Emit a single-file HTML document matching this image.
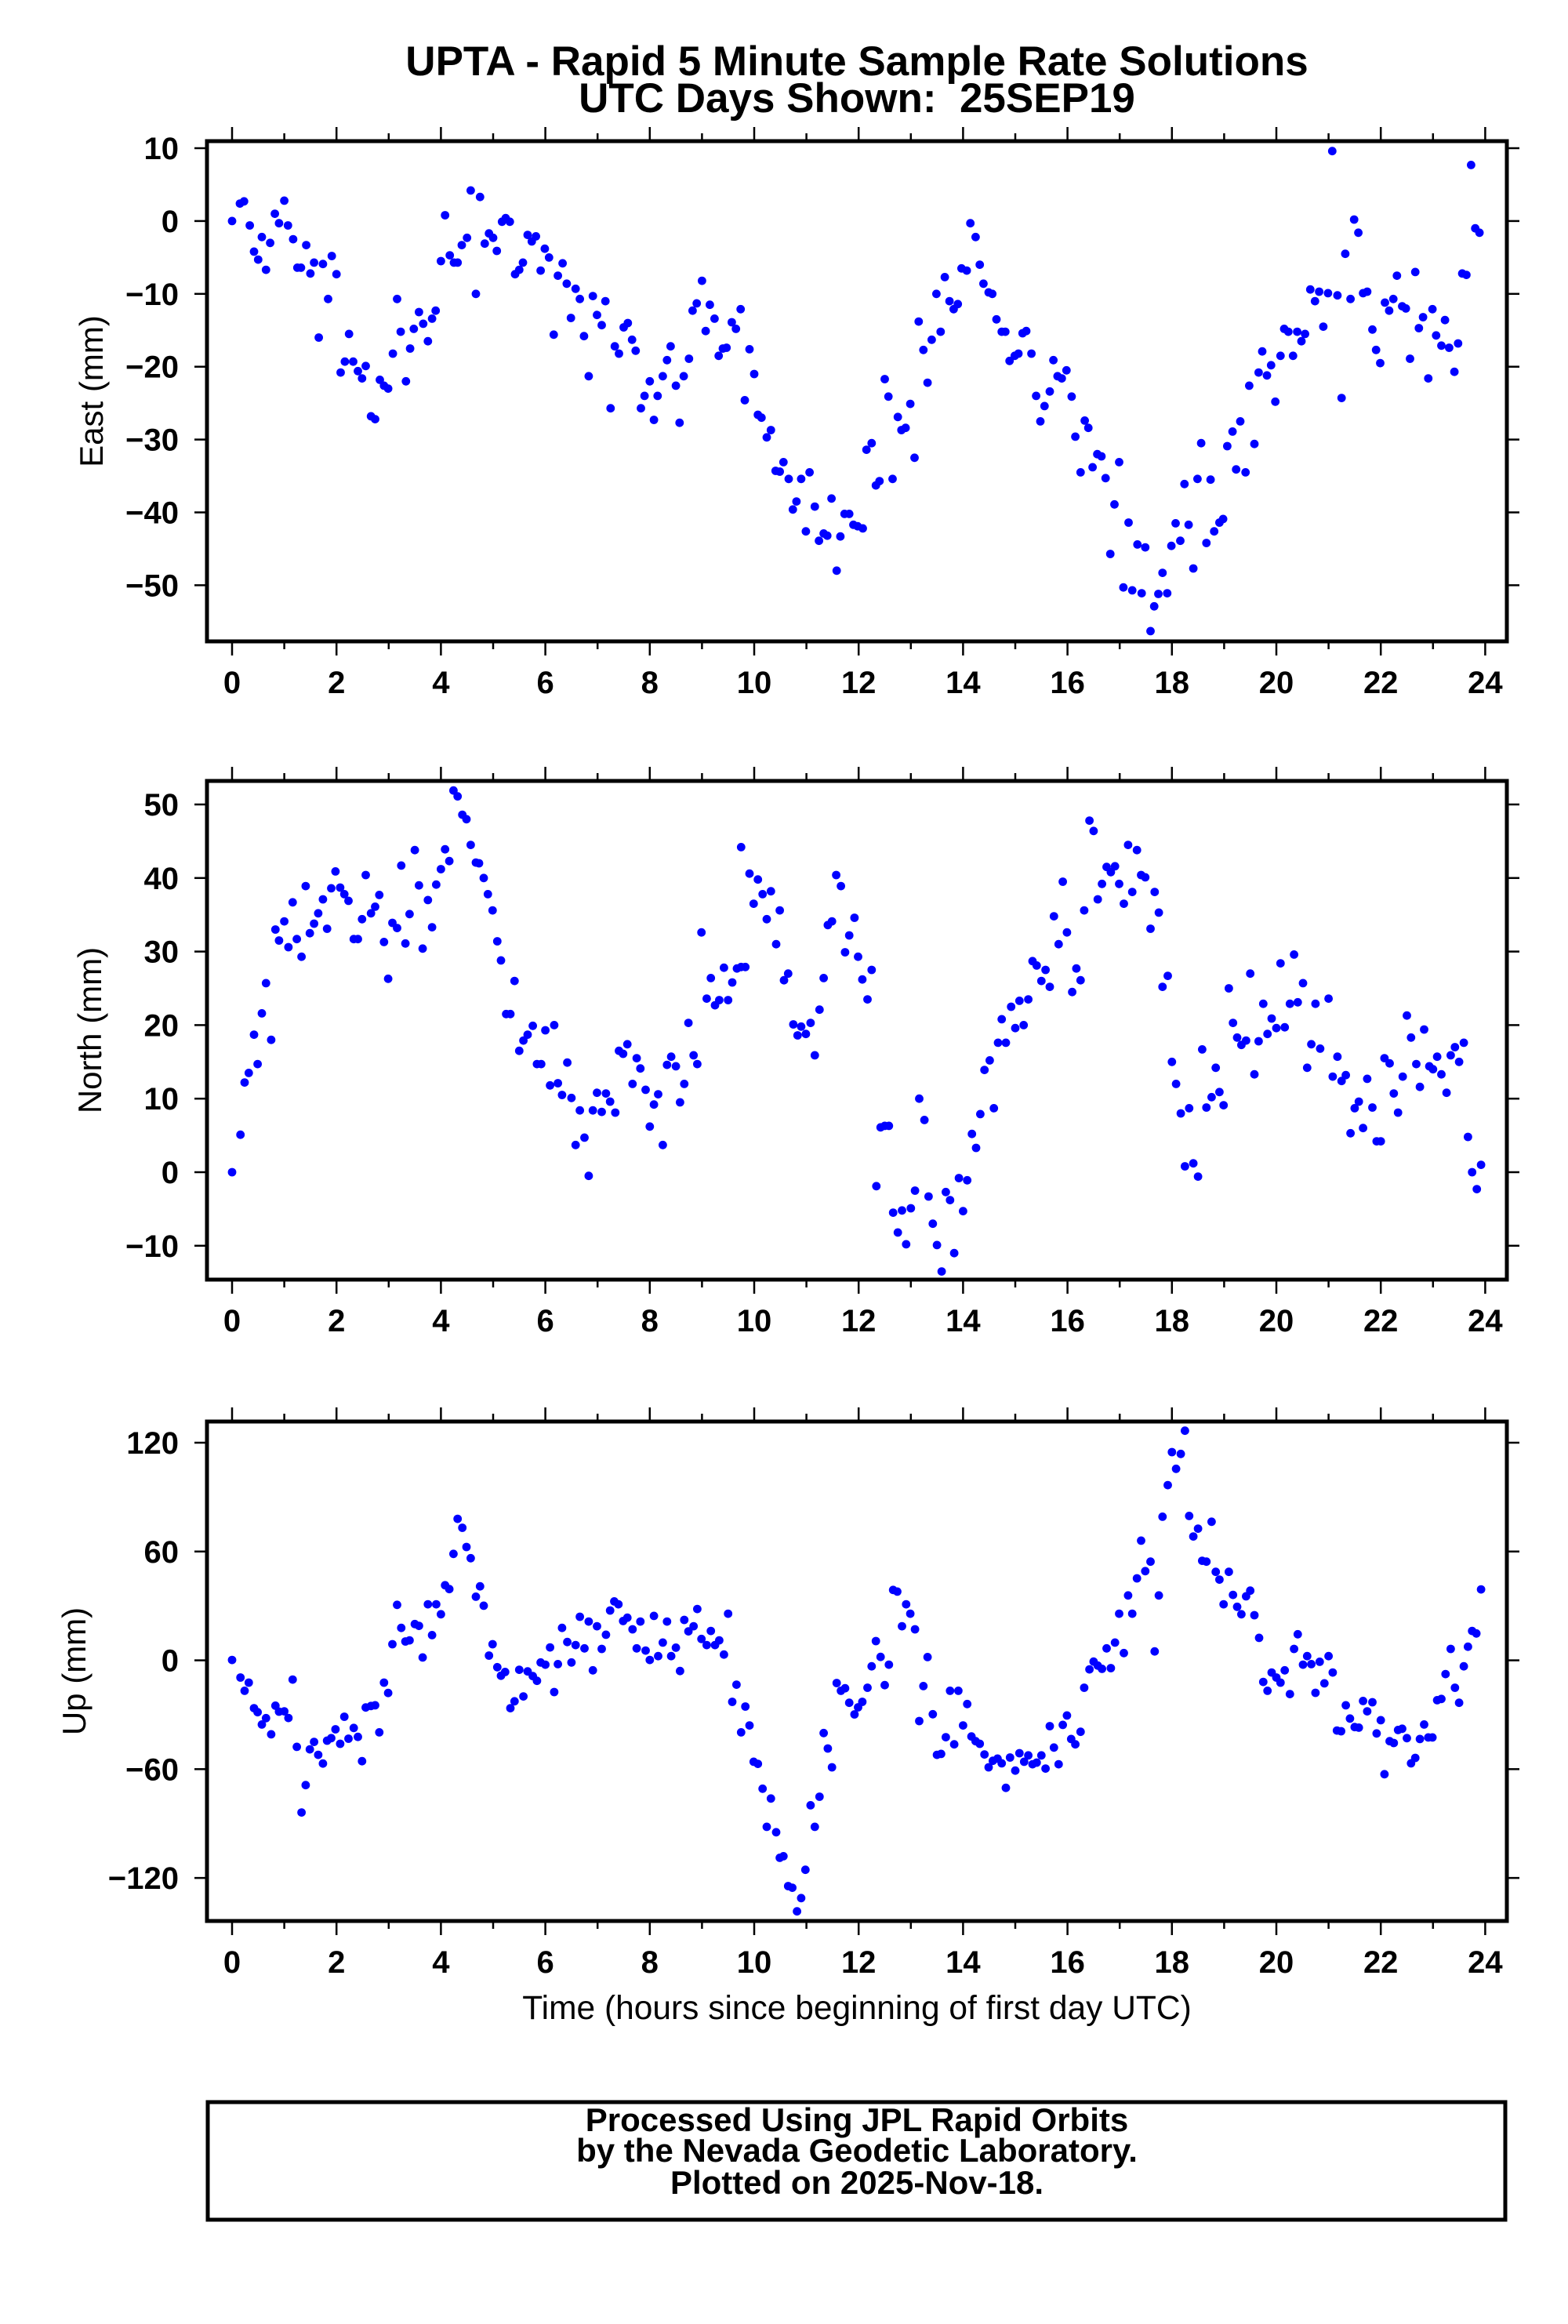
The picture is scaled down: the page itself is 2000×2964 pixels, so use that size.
<!DOCTYPE html>
<html><head><meta charset="utf-8"><style>
html,body{margin:0;padding:0;background:#fff}
svg{display:block}
text{font-family:"Liberation Sans",Arial,sans-serif;fill:#000}
</style></head><body>
<svg id="chart" xmlns="http://www.w3.org/2000/svg" width="2000" height="2964" viewBox="0 0 2000 2964">
<rect x="0" y="0" width="2000" height="2964" fill="#fff"/>
<text x="1093" y="96" font-size="53" font-weight="bold" text-anchor="middle">UPTA - Rapid 5 Minute Sample Rate Solutions</text>
<text x="1093" y="143" font-size="53" font-weight="bold" text-anchor="middle">UTC Days Shown:&#160; 25SEP19</text>
<g id="panels"></g>
<text x="1093" y="2575" font-size="42.5" text-anchor="middle">Time (hours since beginning of first day UTC)</text>
<rect x="265" y="2681" width="1655" height="150" fill="none" stroke="#000" stroke-width="5"/>
<text x="1093" y="2718" font-size="42" font-weight="bold" text-anchor="middle">Processed Using JPL Rapid Orbits</text>
<text x="1093" y="2757" font-size="42" font-weight="bold" text-anchor="middle">by the Nevada Geodetic Laboratory.</text>
<text x="1093" y="2798" font-size="42" font-weight="bold" text-anchor="middle">Plotted on 2025-Nov-18.</text>
</svg>
<script>
// ---- data ----
const xTicks = [0,2,4,6,8,10,12,14,16,18,20,22,24];
const eastTicks = [10,0,-10,-20,-30,-40,-50];
const northTicks = [50,40,30,20,10,0,-10];
const upTicks = [120,60,0,-60,-120];

const eastT = [0,0.15,0.23,0.34,0.42,0.5,0.57,0.65,0.73,0.82,0.9,1.0,1.07,1.17,1.25,1.32,1.42,1.5,1.57,1.66,1.74,1.84,1.91,2.0,2.08,2.16,2.24,2.32,2.41,2.49,2.56,2.66,2.74,2.83,2.91,2.99,3.08,3.16,3.23,3.33,3.41,3.48,3.58,3.66,3.75,3.83,3.9,4.0,4.08,4.17,4.25,4.32,4.4,4.5,4.57,4.67,4.75,4.84,4.92,5.0,5.07,5.17,5.24,5.32,5.42,5.5,5.57,5.66,5.74,5.82,5.91,5.99,6.07,6.16,6.24,6.33,6.41,6.49,6.58,6.66,6.74,6.83,6.91,6.99,7.08,7.15,7.25,7.33,7.41,7.5,7.58,7.66,7.73,7.83,7.9,8.0,8.08,8.15,8.25,8.33,8.4,8.5,8.57,8.65,8.75,8.82,8.9,9.0,9.07,9.15,9.24,9.32,9.4,9.47,9.57,9.65,9.74,9.82,9.91,10.0,10.07,10.14,10.24,10.32,10.41,10.49,10.56,10.66,10.74,10.81,10.9,10.99,11.06,11.16,11.24,11.33,11.4,11.48,11.58,11.65,11.73,11.82,11.9,11.98,12.08,12.15,12.25,12.33,12.4,12.5,12.57,12.65,12.75,12.82,12.9,12.99,13.07,13.15,13.24,13.32,13.4,13.49,13.57,13.65,13.74,13.82,13.9,13.97,14.07,14.14,14.24,14.32,14.39,14.49,14.56,14.64,14.74,14.81,14.89,14.99,15.06,15.14,15.21,15.31,15.4,15.48,15.56,15.66,15.73,15.81,15.89,15.98,16.08,16.15,16.25,16.33,16.4,16.48,16.57,16.65,16.73,16.82,16.9,16.99,17.07,17.17,17.24,17.34,17.42,17.49,17.59,17.66,17.74,17.82,17.91,17.99,18.07,18.16,18.24,18.32,18.41,18.49,18.56,18.66,18.74,18.81,18.91,18.98,19.06,19.16,19.23,19.31,19.41,19.48,19.58,19.66,19.73,19.82,19.9,19.98,20.08,20.15,20.23,20.32,20.4,20.48,20.55,20.65,20.74,20.82,20.9,20.99,21.07,21.17,21.25,21.32,21.42,21.49,21.57,21.66,21.74,21.84,21.91,21.99,22.08,22.16,22.24,22.31,22.41,22.48,22.56,22.66,22.73,22.81,22.91,22.99,23.06,23.16,23.23,23.31,23.41,23.48,23.56,23.64,23.73,23.81,23.89];
const eastV = [0,2.4,2.7,-0.6,-4.2,-5.3,-2.2,-6.7,-3,1,-0.3,2.8,-0.6,-2.5,-6.4,-6.4,-3.3,-7.2,-5.7,-16,-5.9,-10.7,-4.8,-7.3,-20.8,-19.3,-15.5,-19.3,-20.6,-21.6,-19.9,-26.8,-27.2,-21.8,-22.6,-23,-18.2,-10.7,-15.2,-22,-17.5,-14.8,-12.5,-14.1,-16.5,-13.4,-12.3,-5.5,0.8,-4.7,-5.7,-5.7,-3.3,-2.3,4.2,-10,3.3,-3.1,-1.7,-2.3,-4.1,-0.1,0.4,-0.1,-7.3,-6.7,-5.7,-1.9,-2.8,-2.1,-6.8,-3.8,-5,-15.6,-7.5,-5.8,-8.6,-13.3,-9.3,-10.7,-15.8,-21.3,-10.3,-12.9,-14.3,-11,-25.7,-17.2,-18.2,-14.6,-14,-16.3,-17.8,-25.7,-24,-22,-27.3,-24,-21.3,-19.1,-17.2,-22.6,-27.7,-21.3,-18.9,-12.3,-11.3,-8.2,-15.1,-11.5,-13.4,-18.5,-17.5,-17.4,-13.9,-14.8,-12.1,-24.6,-17.6,-21,-26.6,-27,-29.7,-28.7,-34.3,-34.4,-33.1,-35.4,-39.6,-38.5,-35.4,-42.6,-34.5,-39.2,-43.9,-42.9,-43.2,-38.1,-48,-43.3,-40.2,-40.2,-41.7,-41.9,-42.2,-31.4,-30.5,-36.3,-35.7,-21.7,-24.1,-35.4,-26.9,-28.7,-28.4,-25.1,-32.5,-13.8,-17.7,-22.2,-16.3,-10,-15.2,-7.7,-11,-12.1,-11.4,-6.5,-6.8,-0.3,-2.2,-6,-8.6,-9.8,-10,-13.5,-15.2,-15.2,-19.2,-18.5,-18.2,-15.4,-15.1,-18.2,-24,-27.5,-25.4,-23.4,-19.1,-21.3,-21.6,-20.5,-24.1,-29.6,-34.5,-27.4,-28.4,-33.8,-32,-32.3,-35.3,-45.7,-38.9,-33.1,-50.3,-41.4,-50.7,-44.4,-51.1,-44.8,-56.3,-52.9,-51.2,-48.3,-51.1,-44.6,-41.5,-43.9,-36.1,-41.7,-47.7,-35.4,-30.5,-44.2,-35.5,-42.6,-41.4,-40.9,-30.9,-28.9,-34.1,-27.5,-34.5,-22.6,-30.6,-20.8,-17.9,-21.2,-19.8,-24.8,-18.5,-14.8,-15.2,-18.5,-15.2,-16.5,-15.5,-9.4,-11,-9.7,-14.5,-9.9,9.6,-10.2,-24.3,-4.5,-10.7,0.2,-1.6,-9.9,-9.7,-14.9,-17.7,-19.5,-11.2,-12.3,-10.7,-7.5,-11.7,-12,-18.9,-7,-14.7,-13.2,-21.6,-12.1,-15.7,-17.1,-13.6,-17.4,-20.7,-16.8,-7.2,-7.4,7.7,-1,-1.6];

const northT = [0,0.16,0.24,0.32,0.42,0.49,0.57,0.65,0.75,0.83,0.9,1.0,1.08,1.16,1.24,1.33,1.41,1.49,1.57,1.65,1.74,1.82,1.9,1.98,2.07,2.15,2.23,2.33,2.41,2.49,2.56,2.66,2.74,2.82,2.91,2.99,3.07,3.16,3.24,3.32,3.4,3.5,3.58,3.65,3.75,3.83,3.91,4.0,4.08,4.16,4.24,4.32,4.41,4.49,4.57,4.67,4.73,4.82,4.9,4.99,5.08,5.15,5.25,5.33,5.41,5.5,5.58,5.66,5.76,5.84,5.92,6.0,6.09,6.17,6.24,6.32,6.42,6.5,6.58,6.66,6.75,6.83,6.91,6.99,7.08,7.16,7.24,7.34,7.41,7.49,7.57,7.67,7.75,7.82,7.92,8.0,8.08,8.16,8.25,8.33,8.41,8.5,8.58,8.66,8.74,8.84,8.91,8.99,9.09,9.17,9.25,9.33,9.42,9.5,9.58,9.67,9.75,9.75,9.83,9.91,9.99,10.07,10.16,10.24,10.32,10.42,10.49,10.57,10.65,10.75,10.83,10.9,10.99,11.08,11.16,11.25,11.33,11.41,11.49,11.57,11.66,11.74,11.82,11.92,11.99,12.07,12.17,12.25,12.34,12.42,12.5,12.58,12.66,12.75,12.83,12.91,13.0,13.08,13.16,13.26,13.34,13.42,13.5,13.59,13.67,13.75,13.83,13.92,14.0,14.08,14.17,14.25,14.33,14.41,14.51,14.59,14.67,14.74,14.82,14.92,15.0,15.08,15.16,15.25,15.33,15.41,15.5,15.58,15.66,15.74,15.83,15.91,15.99,16.09,16.17,16.25,16.32,16.42,16.5,16.58,16.66,16.75,16.83,16.91,16.99,17.08,17.16,17.24,17.33,17.41,17.49,17.59,17.67,17.75,17.82,17.92,18.0,18.08,18.17,18.25,18.33,18.41,18.5,18.58,18.66,18.76,18.84,18.91,18.99,19.09,19.17,19.25,19.33,19.42,19.5,19.58,19.66,19.75,19.83,19.91,20.0,20.08,20.16,20.26,20.34,20.41,20.51,20.59,20.67,20.75,20.84,21.0,21.08,21.17,21.25,21.33,21.42,21.5,21.58,21.66,21.74,21.84,21.92,22.0,22.07,22.17,22.25,22.33,22.42,22.5,22.58,22.68,22.75,22.83,22.93,23.0,23.08,23.16,23.26,23.34,23.42,23.5,23.59,23.67,23.75,23.84,23.92];
const northV = [0,5.1,12.2,13.5,18.7,14.7,21.6,25.7,18,33,31.5,34.1,30.6,36.7,31.7,29.3,38.9,32.5,33.8,35.2,37.1,33.1,38.6,40.9,38.7,37.8,36.9,31.7,31.7,34.4,40.4,35.2,36.1,37.7,31.3,26.3,33.9,33.2,41.7,31.1,35.1,43.8,39,30.4,37,33.3,39.1,41.2,43.9,42.3,51.9,51.1,48.6,48,44.5,42.1,42,40,37.8,35.6,31.4,28.8,21.5,21.5,26,16.5,17.9,18.7,19.9,14.7,14.7,19.3,11.8,20,12.1,10.5,14.9,10.1,3.7,8.4,4.7,-0.5,8.4,10.8,8.2,10.7,9.6,8.1,16.5,16.1,17.4,12,15.5,14.1,11.2,6.2,9.2,10.6,3.7,14.6,15.7,14.4,9.5,12,20.3,15.9,14.7,32.6,23.6,26.4,22.7,23.4,27.8,23.4,25.8,27.7,27.9,44.2,27.9,40.6,36.5,39.8,37.8,34.4,38.2,31,35.6,26.1,27,20.1,18.6,19.8,18.8,20.3,15.9,22.1,26.4,33.6,34.1,40.4,38.9,29.9,32.2,34.6,29.3,26.2,23.5,27.5,-1.9,6.1,6.3,6.3,-5.5,-8.2,-5.2,-9.8,-4.9,-2.5,10,7.1,-3.3,-7,-9.9,-13.5,-2.7,-3.8,-11,-0.8,-5.3,-1.1,5.2,3.3,7.9,13.9,15.2,8.7,17.6,20.8,17.6,22.5,19.6,23.3,20,23.5,28.7,28.1,26,27.5,25.2,34.8,31,39.5,32.6,24.5,27.7,26.1,35.6,47.8,46.4,37.1,39.2,41.5,40.8,41.6,39.2,36.5,44.5,38.1,43.8,40.4,40.1,33.1,38.1,35.3,25.2,26.7,15,12,8,0.8,8.7,1.2,-0.6,16.7,8.8,10.2,14.2,10.9,9.1,25,20.3,18.3,17.3,17.9,27,13.3,17.8,22.9,18.8,20.9,19.6,28.4,19.7,22.9,29.6,23.1,25.7,14.2,17.4,22.9,16.8,23.6,13,15.7,12.4,13.2,5.3,8.7,9.6,6,12.7,8.8,4.2,4.2,15.5,14.8,10.7,8.1,13,21.3,18.3,14.7,11.6,19.4,14.4,14,15.7,13.3,10.8,15.9,17,15,17.6,4.8,0,-2.3,1];

const upT = [0,0.16,0.24,0.32,0.42,0.49,0.57,0.65,0.75,0.83,0.9,1.0,1.08,1.16,1.24,1.33,1.41,1.49,1.57,1.65,1.74,1.82,1.9,1.98,2.07,2.15,2.23,2.33,2.41,2.49,2.56,2.66,2.74,2.82,2.91,2.99,3.07,3.16,3.24,3.32,3.4,3.5,3.58,3.65,3.75,3.83,3.91,4.0,4.08,4.16,4.24,4.32,4.41,4.49,4.57,4.67,4.75,4.82,4.92,4.99,5.08,5.15,5.23,5.33,5.41,5.5,5.58,5.66,5.76,5.84,5.91,6.0,6.09,6.17,6.24,6.32,6.42,6.5,6.58,6.66,6.75,6.83,6.91,6.99,7.08,7.16,7.24,7.32,7.4,7.49,7.57,7.67,7.75,7.82,7.92,8.0,8.08,8.16,8.25,8.33,8.41,8.5,8.58,8.66,8.74,8.84,8.91,8.99,9.09,9.17,9.25,9.33,9.42,9.5,9.58,9.66,9.75,9.83,9.91,9.99,10.07,10.16,10.24,10.32,10.42,10.49,10.56,10.65,10.73,10.82,10.9,10.98,11.08,11.16,11.25,11.33,11.41,11.49,11.58,11.66,11.74,11.82,11.92,11.99,12.07,12.17,12.25,12.33,12.42,12.5,12.58,12.66,12.74,12.83,12.91,12.99,13.08,13.16,13.24,13.32,13.42,13.5,13.58,13.67,13.75,13.83,13.91,14.0,14.08,14.16,14.24,14.32,14.41,14.49,14.57,14.66,14.74,14.82,14.9,15.0,15.08,15.17,15.25,15.33,15.41,15.5,15.58,15.66,15.74,15.83,15.91,15.99,16.07,16.15,16.25,16.32,16.42,16.5,16.58,16.66,16.75,16.83,16.91,16.99,17.08,17.16,17.24,17.33,17.41,17.49,17.59,17.67,17.75,17.82,17.92,18.0,18.08,18.17,18.25,18.33,18.41,18.5,18.58,18.66,18.76,18.84,18.91,18.99,19.09,19.17,19.25,19.33,19.42,19.5,19.58,19.67,19.75,19.83,19.91,20.0,20.08,20.16,20.26,20.34,20.41,20.51,20.59,20.67,20.75,20.83,20.92,21.0,21.08,21.16,21.24,21.33,21.41,21.5,21.58,21.66,21.74,21.84,21.92,22.0,22.07,22.17,22.25,22.33,22.41,22.5,22.58,22.66,22.75,22.83,22.91,22.99,23.08,23.16,23.24,23.34,23.42,23.5,23.59,23.67,23.75,23.83,23.92];
const upV = [0.2,-9.5,-16.8,-12.3,-26.4,-28.6,-35.4,-31.9,-40.8,-25,-28.3,-28.1,-31.8,-10.6,-47.7,-83.9,-68.8,-49.1,-45,-52.1,-56.9,-44.3,-42.9,-38,-46,-31.1,-43.2,-37.3,-42.2,-55.6,-26,-25.2,-24.8,-39.7,-12.3,-18,8.9,30.6,17.9,10.4,11,20,19,1.6,30.9,13.9,30.9,25.4,41.4,39.3,58.7,78,73.1,62.5,56.3,35.1,40.8,30.1,2.6,8.9,-3.8,-8.5,-6.4,-26.4,-22.6,-5.2,-19.9,-6.1,-8.7,-11.3,-1.2,-2.4,7.1,-17.5,-2.1,17.9,10.1,-1.2,8.4,24,6.6,21.4,-5.5,18.8,6.3,14.1,27.5,32.5,30.9,21.7,23.5,17.1,6.6,21.4,5.4,0.2,24.5,2.3,9.8,21.4,2.3,7,-5.9,22.3,16,18.8,28.3,11.8,8.4,16.2,8.4,11,3.2,25.7,-22.9,-13.4,-39.7,-25.5,-35.9,-55.9,-57.1,-70.8,-91.8,-76.2,-94.8,-108.9,-108,-124.5,-125.4,-138.4,-131.1,-115.5,-79.9,-91.8,-75.2,-40.1,-48.6,-59,-12.5,-16.8,-15.4,-23.4,-29.8,-25.9,-22.9,-15.1,-3.3,10.6,1.9,-13.7,-2.4,38.8,37.9,18.8,30.9,25.7,17.1,-33.5,-14.2,1.8,-29.7,-52.1,-51.6,-42.4,-16.8,-46.3,-16.8,-35.9,-24.1,-42,-44.6,-46,-51.9,-59,-55.4,-54.2,-56.8,-70.3,-53.6,-60.8,-51.2,-55.9,-52.4,-57.3,-56.4,-52.4,-59.7,-36.3,-48.1,-57.3,-35.6,-30.4,-43.4,-46.3,-39.4,-15.1,-5,-0.7,-2.9,-4.7,6.6,-4.3,9.8,25.7,4,35.8,25.7,45.2,66,49.2,54.4,4.9,35.8,79.2,96.6,114.8,105.6,113.8,126.6,79.6,68.3,72.6,54.9,54.4,76.4,48.8,44.5,30.9,48.8,36.1,29.5,25.4,35.3,38.4,24.9,12.4,-11.9,-16.8,-6.7,-9.5,-12.3,-5.5,-18.6,6.3,14.4,-2.4,2.3,-2.1,-17.9,-0.8,-12.7,2.3,-6.7,-38.7,-39.1,-24.8,-32.1,-36.8,-37.1,-22.4,-28.1,-23.1,-40.3,-33,-62.8,-44.6,-45.6,-38.4,-37.7,-42.9,-56.8,-53.8,-43.4,-35.4,-42.5,-42.5,-22,-21.3,-7.6,6.3,-15.1,-23.4,-3.3,7.5,16.2,14.8,39.1];

// ---- layout ----
const NS = 'http://www.w3.org/2000/svg';
const X0 = 296, PX_PER_HOUR = 66.6, FL = 264, FR = 1922;
function xPos(t){ return X0 + t * PX_PER_HOUR; }
function mk(tag, attrs, parent){ const e = document.createElementNS(NS, tag); for (const k in attrs) e.setAttribute(k, attrs[k]); parent.appendChild(e); return e; }

const panels = [
  {key:'east', label:'East (mm)', top:180, bot:818, ref:10, refY:189, pxPer:9.29, ticks:eastTicks, T:eastT, V:eastV, labelX:131},
  {key:'north', label:'North (mm)', top:996, bot:1632, ref:50, refY:1026, pxPer:9.38, ticks:northTicks, T:northT, V:northV, labelX:129},
  {key:'up', label:'Up (mm)', top:1813, bot:2450, ref:120, refY:1840, pxPer:2.313, ticks:upTicks, T:upT, V:upV, labelX:109}
];
const root = document.getElementById('panels');

panels.forEach(p => {
  const yPos = v => p.refY + (p.ref - v) * p.pxPer;
  const g = mk('g', {}, root);
  
  

  const pts = mk('g', {fill:'#0000ff'}, g);
  
  
  for (let i = 0; i < p.T.length; i++) {
    const c = mk('circle', {cx:xPos(p.T[i]).toFixed(1), cy:yPos(p.V[i]).toFixed(1), r:5.4}, pts);
    
    
  }

  const fr = mk('rect', {x:FL, y:p.top, width:FR-FL, height:p.bot-p.top, fill:'none', stroke:'#000', 'stroke-width':5}, g);
  
  

  const xt = mk('g', {stroke:'#000', 'stroke-width':2.5}, g);
  
  
  for (let h = 0; h <= 24; h++) {
    const len = (h % 2 === 0) ? 16 : 8;
    const x = xPos(h);
    mk('line', {x1:x, x2:x, y1:p.top-2, y2:p.top-2-len}, xt);
    mk('line', {x1:x, x2:x, y1:p.bot+2, y2:p.bot+2+len}, xt);
  }
  xTicks.forEach(h => {
    const t = mk('text', {x:xPos(h), y:p.bot+66, 'font-size':40, 'font-weight':'bold', 'text-anchor':'middle'}, g);
    
    
    t.textContent = h;
  });

  const yt = mk('g', {stroke:'#000', 'stroke-width':2.5}, g);
  
  
  p.ticks.forEach(v => {
    const y = yPos(v);
    mk('line', {x1:FL-2, x2:FL-16, y1:y, y2:y}, yt);
    mk('line', {x1:FR+2, x2:FR+16, y1:y, y2:y}, yt);
    const t = mk('text', {x:228, y:y+14, 'font-size':40, 'font-weight':'bold', 'text-anchor':'end'}, g);
    
    
    t.textContent = (v < 0 ? '\u2212' + (-v) : '' + v);
  });

  const cy = (p.top + p.bot) / 2;
  const yl = mk('text', {x:p.labelX, y:cy, 'font-size':42, 'text-anchor':'middle', transform:'rotate(-90 ' + p.labelX + ' ' + cy + ')'}, g);
  
  
  yl.textContent = p.label;
});
</script>
</body></html>
